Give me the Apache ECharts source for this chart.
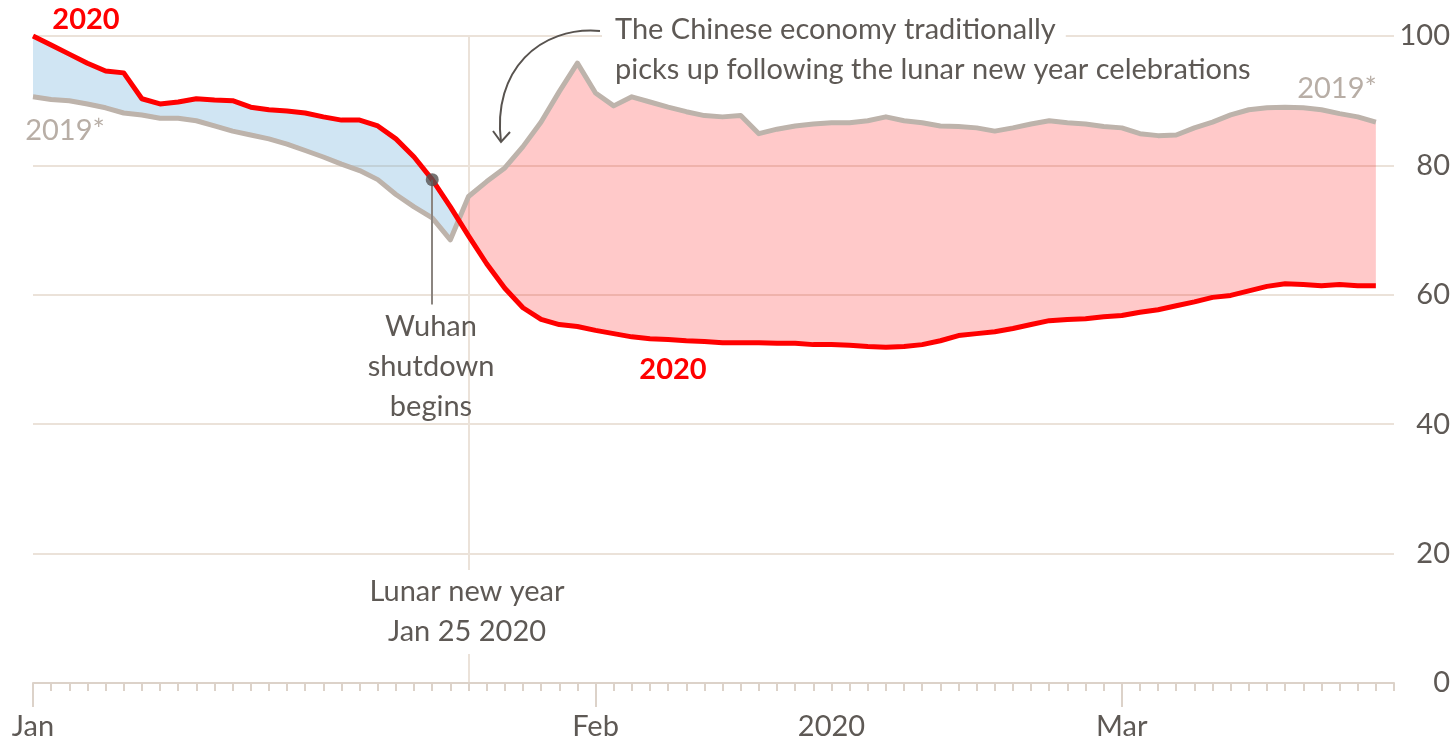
<!DOCTYPE html>
<html><head><meta charset="utf-8">
<script src="https://cdn.jsdelivr.net/npm/echarts@6/dist/echarts.min.js"></script>
<style>html,body{margin:0;padding:0;background:#fff}#c{width:1456px;height:741px}</style>
</head><body><div id="c"></div>
<script>
// Day index 0 = Jan 1 2020 ... 74 = Mar 15 2020
const values2020 = [
  100, 98.6, 97.2, 95.8, 94.6, 94.3, 90.3, 89.5, 89.8, 90.3,
  90.1, 90.0, 89.0, 88.6, 88.4, 88.1, 87.5, 87.0, 87.0, 86.1,
  84.1, 81.3, 77.8, 73.6, 69.1, 64.8, 61.0, 58.0, 56.2, 55.4,
  55.1, 54.5, 54.0, 53.5, 53.2, 53.1, 52.9, 52.8, 52.6, 52.6,
  52.6, 52.5, 52.5, 52.3, 52.3, 52.2, 52.0, 51.9, 52.0, 52.3,
  52.9, 53.7, 54.0, 54.3, 54.8, 55.4, 56.0, 56.2, 56.3, 56.6,
  56.8, 57.3, 57.7, 58.3, 58.9, 59.6, 59.9, 60.6, 61.3, 61.7,
  61.6, 61.4, 61.6, 61.4, 61.4
];
const values2019 = [
  90.6, 90.2, 90.0, 89.5, 88.9, 88.1, 87.8, 87.3, 87.3, 86.9,
  86.1, 85.3, 84.7, 84.1, 83.3, 82.3, 81.3, 80.2, 79.2, 77.8,
  75.5, 73.6, 71.9, 68.5, 75.2, 77.5, 79.6, 82.9, 86.7, 91.4,
  95.8, 91.2, 89.2, 90.6, 89.8, 89.0, 88.3, 87.7, 87.5, 87.7,
  84.9, 85.6, 86.1, 86.4, 86.6, 86.6, 86.9, 87.5, 86.9, 86.6,
  86.1, 86.0, 85.8, 85.3, 85.8, 86.4, 86.9, 86.6, 86.4, 86.0,
  85.8, 84.9, 84.6, 84.7, 85.8, 86.7, 87.8, 88.6, 88.9, 89.0,
  88.9, 88.6, 88.0, 87.5, 86.7
];
const xLabelDays = [0, 31, 44, 60];
const xLabelTexts = ['Jan', 'Feb', '2020', 'Mar'];
const majorTickDays = [0, 31, 60];
const xAxisMaxDay = 75;
const yMin = 0, yMax = 100, yStep = 20;
const lunarNewYearDay = 24;
const wuhanDay = 22;
const wuhanStemEnd = 58.5;

const FONT = 'Lato, "Open Sans", sans-serif';
const RED = '#ff0000';
const GREY = '#bdb3ab';
const TXT = '#5e5955';
const BLUE_FILL = 'rgba(100,170,215,0.3)';
const PINK_FILL = 'rgba(255,0,0,0.21)';
const GRID = '#ebe2d9';

function buildBands(a, b) {
  const polys = [];
  let cur = null;
  for (let i = 0; i < a.length; i++) {
    const s = a[i] >= b[i] ? 1 : -1;
    if (!cur) { cur = {sign: s, top: [[i, a[i]]], bot: [[i, b[i]]]}; continue; }
    if (s !== cur.sign) {
      const d0 = a[i-1] - b[i-1], d1 = a[i] - b[i];
      const t = d0 / (d0 - d1);
      const xc = i - 1 + t, yc = a[i-1] + t * (a[i] - a[i-1]);
      cur.top.push([xc, yc]); cur.bot.push([xc, yc]);
      polys.push(cur);
      cur = {sign: s, top: [[xc, yc], [i, a[i]]], bot: [[xc, yc], [i, b[i]]]};
    } else {
      cur.top.push([i, a[i]]); cur.bot.push([i, b[i]]);
    }
  }
  polys.push(cur);
  return polys;
}
const bands = buildBands(values2020, values2019);

const chart = echarts.init(document.getElementById('c'), null, {renderer: 'canvas'});
const option = {
  animation: false,
  grid: {left: 33, right: 62, top: 36, bottom: 57},
  xAxis: [{
    type: 'value', min: 0, max: xAxisMaxDay, interval: 1,
    axisLine: {show: true, lineStyle: {color: '#dcd2c9', width: 2}},
    axisTick: {show: true, length: 8, lineStyle: {color: '#dcd2c9', width: 2}},
    axisLabel: {show: false},
    splitLine: {show: false}
  }, {
    type: 'value', min: 0, max: xAxisMaxDay, position: 'bottom',
    axisLine: {show: false},
    axisTick: {show: true, length: 24, customValues: majorTickDays, lineStyle: {color: '#dcd2c9', width: 2}},
    axisLabel: {
      show: true, customValues: xLabelDays, margin: 29,
      fontFamily: FONT, fontSize: 29, color: TXT,
      formatter: v => xLabelTexts[xLabelDays.indexOf(Math.round(v))] || ''
    },
    splitLine: {show: false}
  }],
  yAxis: {
    type: 'value', position: 'right', min: yMin, max: yMax, interval: yStep,
    axisLine: {show: false}, axisTick: {show: false},
    axisLabel: {fontFamily: FONT, fontSize: 29, color: TXT, align: 'right', margin: 56},
    splitLine: {lineStyle: {color: GRID, width: 2}}
  },
  series: [
    {
      type: 'line', data: [], z: 0, silent: true,
      markLine: {
        z: 0, silent: true, symbol: 'none', label: {show: false},
        lineStyle: {color: GRID, width: 2, type: 'solid'},
        data: [{xAxis: lunarNewYearDay}]
      }
    },
    {
      type: 'custom', z: 1, silent: true,
      data: bands.map((p, i) => [p.top[0][0], 0, i]),
      encode: {x: 0, y: 1},
      renderItem: (params, api) => {
        const p = bands[params.dataIndex];
        const pts = p.top.concat(p.bot.slice().reverse()).map(q => api.coord(q));
        return {type: 'polygon', shape: {points: pts}, style: {fill: p.sign > 0 ? BLUE_FILL : PINK_FILL}};
      }
    },
    {
      name: '2019*', type: 'line', z: 3, symbol: 'none',
      data: values2019.map((v, i) => [i, v]),
      lineStyle: {color: GREY, width: 5, join: 'round'}
    },
    {
      name: '2020', type: 'line', z: 4, symbol: 'none',
      data: values2020.map((v, i) => [i, v]),
      lineStyle: {color: RED, width: 5, join: 'round'}
    },
    {
      type: 'scatter', z: 5, symbolSize: 13,
      itemStyle: {color: '#555150'},
      data: [[wuhanDay, values2020[wuhanDay]]],
      markLine: {
        silent: true, symbol: 'none', label: {show: false},
        lineStyle: {color: '#8b8580', width: 2, type: 'solid'},
        data: [[{coord: [wuhanDay, values2020[wuhanDay]]}, {coord: [wuhanDay, wuhanStemEnd]}]]
      }
    }
  ],
  graphic: [
    {type: 'text', x: 86, y: 20, z: 10, style: {text: '2020', fill: RED, font: 'bold 29px ' + FONT, textAlign: 'center', textVerticalAlign: 'middle'}},
    {type: 'text', x: 65, y: 131, z: 10, style: {text: '2019*', fill: '#b8aea6', font: '29px ' + FONT, textAlign: 'center', textVerticalAlign: 'middle'}},
    {type: 'text', x: 1337, y: 89, z: 10, style: {text: '2019*', fill: '#b8aea6', font: '29px ' + FONT, textAlign: 'center', textVerticalAlign: 'middle'}},
    {type: 'text', x: 673, y: 370, z: 10, style: {text: '2020', fill: RED, font: 'bold 29px ' + FONT, textAlign: 'center', textVerticalAlign: 'middle'}},
    {type: 'text', x: 431, y: 307, z: 10, style: {text: 'Wuhan\nshutdown\nbegins', fill: TXT, font: '29px ' + FONT, lineHeight: 40, textAlign: 'center', textVerticalAlign: 'top'}},
    {type: 'text', x: 467, y: 570, z: 10, style: {text: 'Lunar new year\nJan 25 2020', fill: TXT, font: '29px ' + FONT, lineHeight: 40, textAlign: 'center', textVerticalAlign: 'top', backgroundColor: '#fff', padding: [2, 6]}},
    {type: 'text', x: 602, y: 30, z: 10, style: {text: 'The Chinese economy traditionally', fill: TXT, font: '29px ' + FONT, textAlign: 'left', textVerticalAlign: 'middle', backgroundColor: '#fff', padding: [0, 10, 0, 13]}},
    {type: 'text', x: 615, y: 70, z: 10, style: {text: 'picks up following the lunar new year celebrations', fill: TXT, font: '29px ' + FONT, textAlign: 'left', textVerticalAlign: 'middle'}},
    {type: 'bezierCurve', z: 11, shape: {x1: 600, y1: 31, cpx1: 540, cpy1: 26, cpx2: 492, cpy2: 70, x2: 501, y2: 142}, style: {stroke: '#58534f', lineWidth: 2, fill: null}},
    {type: 'polyline', z: 11, shape: {points: [[493, 131], [501, 142], [510, 132]]}, style: {stroke: '#58534f', lineWidth: 2, fill: null}}
  ]
};
chart.setOption(option);
</script>
</body></html>
